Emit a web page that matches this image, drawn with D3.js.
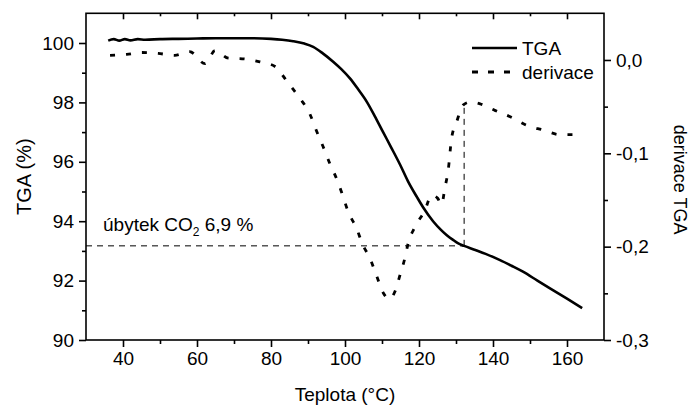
<!DOCTYPE html>
<html>
<head>
<meta charset="utf-8">
<script src="https://cdn.jsdelivr.net/npm/d3@7"></script>
<style>
  html, body { margin: 0; padding: 0; background: #fff; }
  svg { display: block; font-family: "Liberation Sans", Arial, sans-serif; }
</style>
</head>
<body>
<svg id="chart" width="689" height="407"></svg>
<script>
// ---- data ----
const tgaTemp = [36, 37.5, 39, 40.5, 42, 44, 46, 50, 55, 60, 65, 70, 75, 80, 83, 86, 89, 91.4, 94, 96.8, 99, 101.4, 103.5, 105.9, 108, 110.3, 112.5, 114.9, 117, 119.5, 121.1, 123.8, 126, 127.6, 129.2, 130.5, 132.2, 135, 138, 141.9, 145, 148.1, 152, 155.4, 160, 164.1];
const tgaValue = [100.08, 100.13, 100.08, 100.13, 100.09, 100.13, 100.11, 100.13, 100.14, 100.15, 100.16, 100.16, 100.16, 100.14, 100.11, 100.06, 99.98, 99.87, 99.65, 99.37, 99.12, 98.80, 98.45, 98.02, 97.55, 97.00, 96.48, 95.90, 95.35, 94.80, 94.47, 94.00, 93.70, 93.52, 93.37, 93.26, 93.17, 93.04, 92.90, 92.69, 92.50, 92.30, 92.00, 91.74, 91.39, 91.07];

const derTemp = [36.5, 41, 45, 49.5, 54, 58, 62.2, 64.9, 68.5, 73, 77, 81.1, 84.5, 87.8, 90.4, 92.2, 94.1, 95.9, 97.8, 99.1, 100.9, 103.2, 104.6, 106.9, 108.6, 110.4, 112, 113.5, 114.9, 116.2, 117.1, 118.9, 121.6, 123.4, 125, 126.1, 127, 127.9, 128.8, 130.2, 132, 134, 136.5, 140.5, 145.3, 149.1, 153.6, 158.1, 162.2, 163.5];
const derValue = [0.005, 0.006, 0.008, 0.007, 0.005, 0.009, -0.004, 0.010, 0.002, 0.001, -0.002, -0.007, -0.024, -0.041, -0.057, -0.075, -0.093, -0.111, -0.128, -0.142, -0.163, -0.181, -0.196, -0.214, -0.232, -0.250, -0.256, -0.248, -0.230, -0.212, -0.196, -0.179, -0.161, -0.145, -0.148, -0.155, -0.137, -0.118, -0.084, -0.066, -0.048, -0.045, -0.047, -0.054, -0.062, -0.070, -0.075, -0.080, -0.080, -0.077];

const xTicks = [40, 60, 80, 100, 120, 140, 160];
const xMinorTicks = [50, 70, 90, 110, 130, 150];
const yLeftTicks = [90, 92, 94, 96, 98, 100];
const yLeftMinorTicks = [91, 93, 95, 97, 99];
const yRightTicks = [-0.3, -0.2, -0.1, 0.0];
const yRightMinorTicks = [-0.25, -0.15, -0.05];

const seriesNames = ["TGA", "derivace"];
const axisTitles = { x: "Teplota (°C)", yLeft: "TGA (%)", yRight: "derivace TGA" };

// annotation: CO2 loss marker
const markTemp = 132.2;
const markTGA = 93.17;
const markDer = -0.047;
const markLabelTemp = 34.6;
const markLabelTGA = 93.68;

// ---- layout ----
const L = 86, R = 604, T = 13.3, B = 340;
const svg = d3.select("#chart");

const x = d3.scaleLinear().domain([30, 170]).range([L, R]);
const yL = d3.scaleLinear().domain([90, 101]).range([B, T]);
const yR = d3.scaleLinear().domain([-0.3, 0.05]).range([B, T]);

const fontTick = 19;
const fontTitle = 19;

// frame
svg.append("rect")
  .attr("x", L).attr("y", T).attr("width", R - L).attr("height", B - T)
  .attr("fill", "none").attr("stroke", "#000").attr("stroke-width", 1.6);

function styleAxis(g) {
  g.select(".domain").remove();
  g.selectAll(".tick line").attr("stroke", "#000").attr("stroke-width", 1.6);
  g.selectAll(".tick text").attr("fill", "#000").attr("font-size", fontTick)
    .attr("font-family", "'Liberation Sans', Arial, sans-serif");
}

// bottom axis
svg.append("g").attr("transform", `translate(0,${B})`)
  .call(d3.axisBottom(x).tickValues(xTicks).tickSize(7).tickPadding(5).tickFormat(d3.format("d")))
  .call(styleAxis);
svg.append("g").attr("transform", `translate(0,${B})`)
  .call(d3.axisBottom(x).tickValues(xMinorTicks).tickSize(4).tickFormat(""))
  .call(styleAxis);
// top axis (inward ticks)
svg.append("g").attr("transform", `translate(0,${T})`)
  .call(d3.axisTop(x).tickValues(xTicks).tickSize(-6).tickFormat(""))
  .call(styleAxis);
svg.append("g").attr("transform", `translate(0,${T})`)
  .call(d3.axisTop(x).tickValues(xMinorTicks).tickSize(-3).tickFormat(""))
  .call(styleAxis);
// left axis
svg.append("g").attr("transform", `translate(${L},0)`)
  .call(d3.axisLeft(yL).tickValues(yLeftTicks).tickSize(7).tickPadding(5).tickFormat(d3.format("d")))
  .call(styleAxis);
svg.append("g").attr("transform", `translate(${L},0)`)
  .call(d3.axisLeft(yL).tickValues(yLeftMinorTicks).tickSize(4).tickFormat(""))
  .call(styleAxis);
// right axis
const fmtR = d => d3.format(".1f")(d).replace("−", "-").replace(".", ",");
svg.append("g").attr("transform", `translate(${R},0)`)
  .call(d3.axisRight(yR).tickValues(yRightTicks).tickSize(7).tickPadding(5).tickFormat(fmtR))
  .call(styleAxis);
svg.append("g").attr("transform", `translate(${R},0)`)
  .call(d3.axisRight(yR).tickValues(yRightMinorTicks).tickSize(4).tickFormat(""))
  .call(styleAxis);

// axis titles
svg.append("text").attr("x", (L + R) / 2).attr("y", 401).attr("text-anchor", "middle")
  .attr("font-size", fontTitle).text(axisTitles.x);
svg.append("text").attr("transform", `translate(31,${(T + B) / 2}) rotate(-90)`)
  .attr("text-anchor", "middle").attr("font-size", 20).text(axisTitles.yLeft);
svg.append("text").attr("transform", `translate(674,${(T + B) / 2 + 3}) rotate(90)`)
  .attr("text-anchor", "middle").attr("font-size", 18).text(axisTitles.yRight);

// annotation dashed lines
svg.append("line")
  .attr("x1", x(30)).attr("x2", x(markTemp)).attr("y1", yL(markTGA)).attr("y2", yL(markTGA))
  .attr("stroke", "#000").attr("stroke-width", 1).attr("stroke-dasharray", "6,5");
svg.append("line")
  .attr("x1", x(markTemp)).attr("x2", x(markTemp)).attr("y1", yL(markTGA)).attr("y2", yR(markDer))
  .attr("stroke", "#000").attr("stroke-width", 1).attr("stroke-dasharray", "6,5");

const lab = svg.append("text").attr("x", x(markLabelTemp)).attr("y", yL(markLabelTGA))
  .attr("font-size", 19);
lab.append("tspan").text("úbytek CO");
lab.append("tspan").attr("font-size", 12).attr("dy", 5).text("2");
lab.append("tspan").attr("dy", -5).text(" 6,9 %");

// series
const tgaData = tgaTemp.map((t, i) => [t, tgaValue[i]]);
const derData = derTemp.map((t, i) => [t, derValue[i]]);

svg.append("path").datum(derData)
  .attr("fill", "none").attr("stroke", "#000").attr("stroke-width", 2.8)
  .attr("stroke-dasharray", "5,11")
  .attr("d", d3.line().x(d => x(d[0])).y(d => yR(d[1])).curve(d3.curveMonotoneX));

svg.append("path").datum(tgaData)
  .attr("fill", "none").attr("stroke", "#000").attr("stroke-width", 2.6)
  .attr("d", d3.line().x(d => x(d[0])).y(d => yL(d[1])).curve(d3.curveMonotoneX));

// legend
const lg = svg.append("g");
lg.append("line").attr("x1", 472).attr("x2", 517).attr("y1", 48).attr("y2", 48)
  .attr("stroke", "#000").attr("stroke-width", 2.6);
lg.append("text").attr("x", 522).attr("y", 48).attr("dy", "0.35em").attr("font-size", fontTitle).text(seriesNames[0]);
lg.append("line").attr("x1", 472).attr("x2", 512).attr("y1", 72).attr("y2", 72)
  .attr("stroke", "#000").attr("stroke-width", 2.8).attr("stroke-dasharray", "6,10");
lg.append("text").attr("x", 522).attr("y", 72).attr("dy", "0.35em").attr("font-size", fontTitle).text(seriesNames[1]);
</script>
</body>
</html>
